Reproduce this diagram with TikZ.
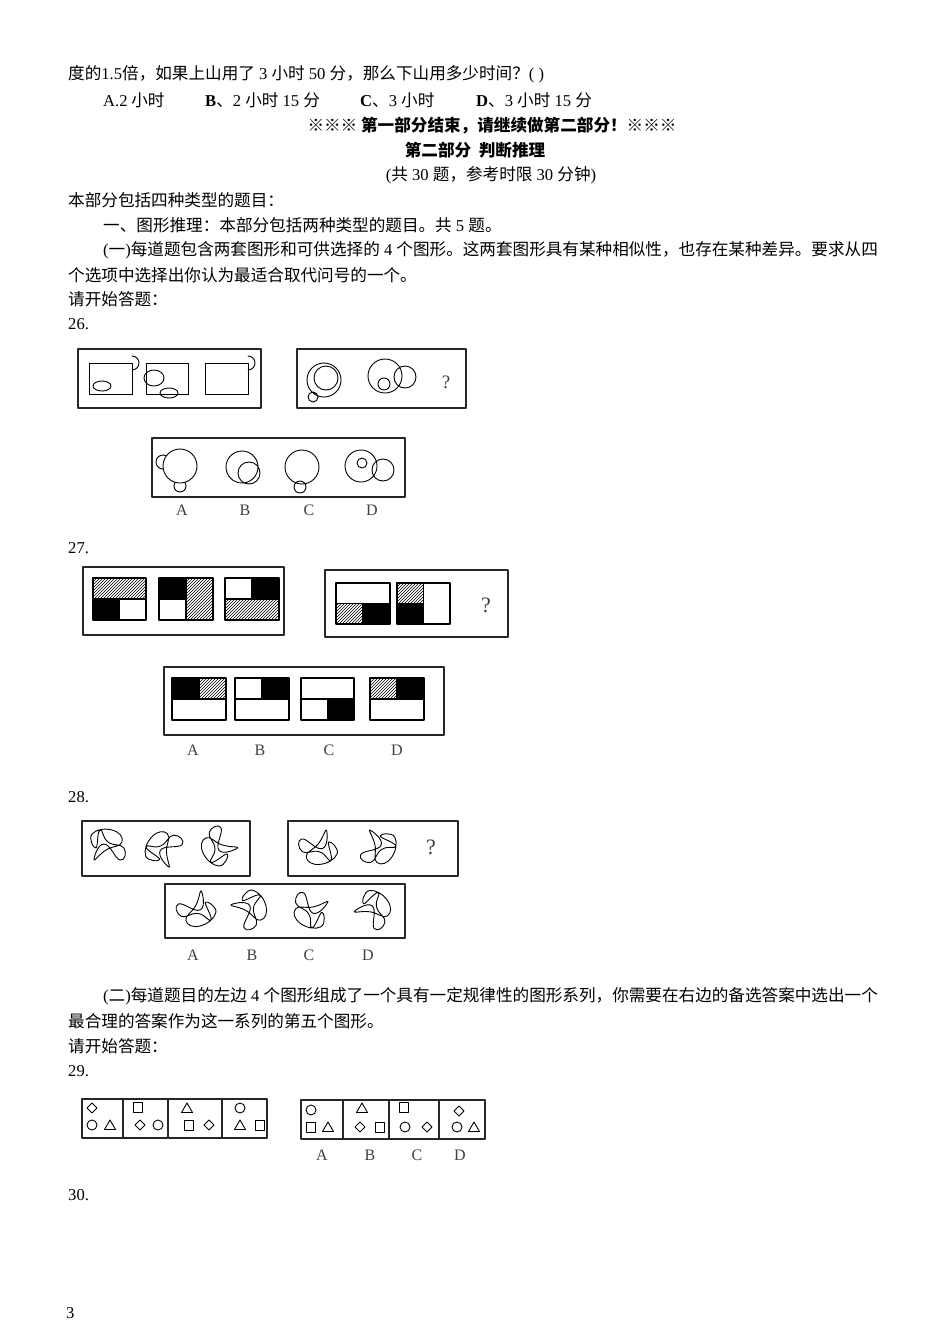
\documentclass[tikz,border=0pt]{standalone}
\usepackage{fontspec}
\setmainfont{Noto Sans CJK SC}
\newfontfamily\lat{Liberation Serif}
\usetikzlibrary{patterns}
\newcommand{\rn}[1]{{\lat #1}}
\newcommand{\knot}[4]{% x, y, angle, name
  \begin{scope}[shift={(#1,#2)},rotate=#3]
    \draw[fig] plot[smooth cycle,tension=0.9] coordinates {(-16,-12) (4,-16) (14,-4) (-2,4) (-14,14) (-4,-2) (12,14) (16,2) (0,-4) (-8,-16) (-12,2)};
    \coordinate (#4) at (0,0);
  \end{scope}}
\begin{document}
\begin{tikzpicture}[x=1pt,y=-1pt, line cap=round,line join=round,
    txt/.style={anchor=west, inner sep=0pt, font=\fontsize{16.6}{19}\selectfont},
    ctr/.style={inner sep=0pt, font=\fontsize{16.6}{19}\selectfont},
    lab/.style={inner sep=0pt, font=\lat\fontsize{16}{18}\selectfont, text=black!75},
    frame/.style={draw, line width=1.3pt, black!85},
    fig/.style={draw, line width=0.9pt},
    sq/.style={draw, line width=1.6pt},
    blk/.style={fill=black},
    hatch/.style={pattern=north east lines}]
\useasboundingbox (0,0) rectangle (950,1344);
\fill[white] (0,0) rectangle (950,1344);

% text of the page
\node[txt] (l1) at (68,74) {度的\rn{1.5}倍，如果上山用了\rn{ 3 }小时\rn{ 50 }分，那么下山用多少时间？\rn{( )}};
\node[txt] (oa) at (103,100) {\rn{A.2} 小时};
\node[txt] (ob) at (205,100) {\rn{\textbf{B}}、\rn{2 }小时\rn{ 15 }分};
\node[txt] (oc) at (360,100) {\rn{\textbf{C}}、\rn{3 }小时};
\node[txt] (od) at (476,100) {\rn{\textbf{D}}、\rn{3 }小时\rn{ 15 }分};
\node[ctr] (end1) at (492,126) {\bfseries ※※※ 第一部分结束，请继续做第二部分！※※※};
\node[ctr] (part2) at (475,150) {\bfseries 第二部分\ \ 判断推理};
\node[ctr] (note) at (491,175) {\rn{(}共\rn{ 30 }题，参考时限\rn{ 30 }分钟\rn{)}};
\node[txt] (l2) at (68,200) {本部分包括四种类型的题目：};
\node[txt] (l3) at (103,225) {一、图形推理：本部分包括两种类型的题目。共\rn{ 5 }题。};
\node[txt] (l4) at (103,250) {\rn{(}一\rn{)}每道题包含两套图形和可供选择的\rn{ 4 }个图形。这两套图形具有某种相似性，也存在某种差异。要求从四};
\node[txt] (l5) at (68,275) {个选项中选择出你认为最适合取代问号的一个。};
\node[txt] (l6) at (68,299) {请开始答题：};
\node[txt] (q26) at (68,324) {\rn{26.}};
\node[txt] (q27) at (68,548) {\rn{27.}};
\node[txt] (q28) at (68,797) {\rn{28.}};
\node[txt] (l7) at (103,996) {\rn{(}二\rn{)}每道题目的左边\rn{ 4 }个图形组成了一个具有一定规律性的图形系列，你需要在右边的备选答案中选出一个};
\node[txt] (l8) at (68,1021) {最合理的答案作为这一系列的第五个图形。};
\node[txt] (l9) at (68,1046) {请开始答题：};
\node[txt] (q29) at (68,1071) {\rn{29.}};
\node[txt] (q30) at (68,1195) {\rn{30.}};
\node[txt] (pg) at (66,1313) {\rn{3}};

% question 26
\draw[frame] (78,349) rectangle (261,408);
\draw[fig] (89,363) rectangle (132,394);
\draw[fig] (132,370) arc (90:-90:7);
\draw[fig] (102,386) ellipse (9 and 5);
\draw[fig] (146,363) rectangle (188,394);
\draw[fig] (154,378) ellipse (10 and 8);
\draw[fig] (169,393) ellipse (9 and 5);
\draw[fig] (205,363) rectangle (248,394);
\draw[fig] (248,370) arc (90:-90:7);
\draw[frame] (297,349) rectangle (466,408);
\draw[fig] (324,380) circle (17) (326,378) circle (12) (313,397) circle (5);
\draw[fig] (385,376) circle (17) (405,377) circle (11) (384,384) circle (6);
\node[lab] (qm26) at (446,382) {\fontsize{19}{20}\selectfont ?};
\draw[frame] (152,438) rectangle (405,497);
\draw[fig] (163,462) circle (7);
\draw[fig] (180,486) circle (6);
\draw[fig, fill=white] (180,466) circle (17);
\draw[fig] (242,467) circle (16) (249,473) circle (11);
\draw[fig] (302,467) circle (17) (300,487) circle (6);
\draw[fig] (361,466) circle (16) (362,463) circle (5) (383,470) circle (11);
\foreach \x/\t in {182/A,245/B,309/C,372/D} \node[lab] (a26\t) at (\x,510) {\t};

% question 27
\draw[frame] (83,567) rectangle (284,635);
\fill[hatch] (93,578) rectangle (146,599);
\fill[blk] (93,599) rectangle (119.5,620);
\draw[sq] (93,578) rectangle (146,620) (93,599) -- (146,599) (119.5,599) -- (119.5,620);
\fill[blk] (159,578) rectangle (186,599);
\fill[hatch] (186,578) rectangle (213,620);
\draw[sq] (159,578) rectangle (213,620) (186,578) -- (186,620) (159,599) -- (186,599);
\fill[blk] (252,578) rectangle (279,599);
\fill[hatch] (225,599) rectangle (279,620);
\draw[sq] (225,578) rectangle (279,620) (225,599) -- (279,599) (252,578) -- (252,599);
\draw[frame] (325,570) rectangle (508,637);
\fill[hatch] (336,603.5) rectangle (363,624);
\fill[blk] (363,603.5) rectangle (390,624);
\draw[sq] (336,583) rectangle (390,624) (336,603.5) -- (390,603.5) (363,603.5) -- (363,624);
\fill[hatch] (397,583) rectangle (423.5,603.5);
\fill[blk] (397,603.5) rectangle (423.5,624);
\draw[sq] (397,583) rectangle (450,624) (423.5,583) -- (423.5,624) (397,603.5) -- (423.5,603.5);
\node[lab] (qm27) at (486,605) {\fontsize{22}{24}\selectfont ?};
\draw[frame] (164,667) rectangle (444,735);
\fill[blk] (172,678) rectangle (199,699);
\fill[hatch] (199,678) rectangle (226,699);
\draw[sq] (172,678) rectangle (226,720) (172,699) -- (226,699) (199,678) -- (199,699);
\fill[blk] (262,678) rectangle (289,699);
\draw[sq] (235,678) rectangle (289,720) (235,699) -- (289,699) (262,678) -- (262,699);
\fill[blk] (327.5,699) rectangle (354,720);
\draw[sq] (301,678) rectangle (354,720) (301,699) -- (354,699) (327.5,699) -- (327.5,720);
\fill[hatch] (370,678) rectangle (397,699);
\fill[blk] (397,678) rectangle (424,699);
\draw[sq] (370,678) rectangle (424,720) (370,699) -- (424,699) (397,678) -- (397,699);
\foreach \x/\t in {193/A,260/B,329/C,397/D} \node[lab] (a27\t) at (\x,750) {\t};

% question 28
\draw[frame] (82,821) rectangle (250,876);
\knot{108}{846}{0}{k1}
\knot{164}{848}{60}{k2}
\knot{218}{846}{130}{k3}
\draw[frame] (288,821) rectangle (458,876);
\knot{318}{848}{200}{k4}
\knot{378}{848}{250}{k5}
\node[lab] (qm28) at (431,847) {\fontsize{22}{24}\selectfont ?};
\draw[frame] (165,884) rectangle (405,938);
\knot{196}{910}{210}{k6}
\knot{250}{910}{300}{k7}
\knot{310}{910}{160}{k8}
\knot{374}{910}{320}{k9}
\foreach \x/\t in {193/A,252/B,309/C,368/D} \node[lab] (a28\t) at (\x,955) {\t};

% question 29
\tikzset{
  dia/.pic={\draw[fig] (0,-5) -- (5,0) -- (0,5) -- (-5,0) -- cycle;},
  cir/.pic={\draw[fig] (0,0) circle (5);},
  tri/.pic={\draw[fig] (0,-5) -- (5.5,4.5) -- (-5.5,4.5) -- cycle;},
  box/.pic={\draw[fig] (-4.5,-5) rectangle (4.5,5);}}
\draw[frame] (82,1099) rectangle (267,1138);
\foreach \x in {123,168,222} \draw[frame] (\x,1099) -- (\x,1138);
\draw[frame] (301,1100) rectangle (485,1139);
\foreach \x in {343,389,439} \draw[frame] (\x,1100) -- (\x,1139);
\foreach \x/\y/\s in {92/1108/dia,92/1125/cir,110/1125/tri,
    138/1107/box,140/1125/dia,158/1125/cir,
    187/1108/tri,189/1125/box,209/1125/dia,
    240/1108/cir,240/1125/tri,260/1125/box,
    311/1110/cir,311/1127/box,328/1127/tri,
    362/1108/tri,360/1127/dia,380/1127/box,
    404/1107/box,405/1127/cir,427/1127/dia,
    459/1111/dia,457/1127/cir,474/1127/tri}
  \pic at (\x,\y) {\s};
\foreach \x/\t in {322/A,370/B,417/C,460/D} \node[lab] (a29\t) at (\x,1155) {\t};
\end{tikzpicture}
\end{document}
